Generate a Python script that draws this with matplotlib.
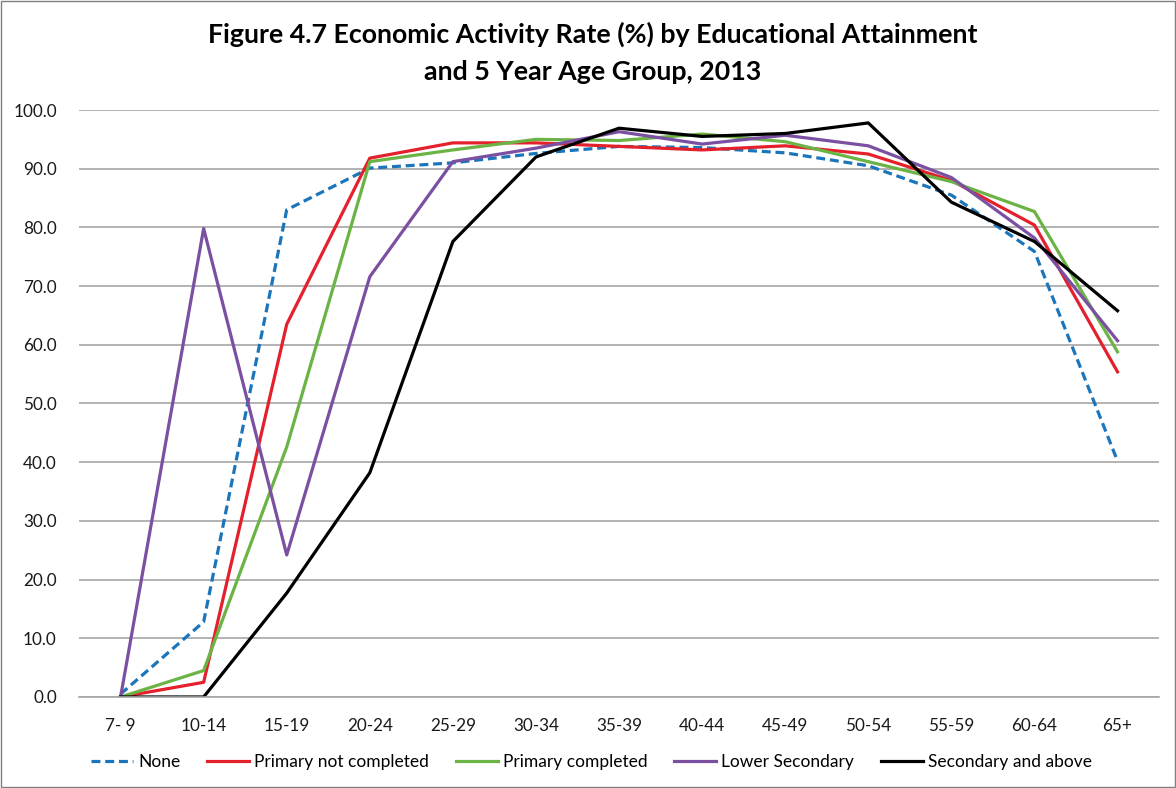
import matplotlib
matplotlib.use("Agg")
import matplotlib.pyplot as plt
from matplotlib.patches import Rectangle
from matplotlib.ticker import FormatStrFormatter

plt.rcParams['font.family'] = ['Lato', 'DejaVu Sans']

age_groups = ["7- 9", "10-14", "15-19", "20-24", "25-29", "30-34", "35-39",
              "40-44", "45-49", "50-54", "55-59", "60-64", "65+"]
none = [0.5, 12.8, 83.0, 90.1, 91.0, 92.6, 93.8, 93.6, 92.7, 90.5, 85.5, 75.9, 40.2]
primary_not_completed = [0.0, 2.5, 63.5, 91.8, 94.4, 94.4, 93.8, 93.2, 93.9, 92.5, 88.0, 80.4, 55.4]
primary_completed = [0.0, 4.5, 42.6, 91.2, 93.2, 95.0, 94.8, 95.9, 94.6, 91.2, 87.8, 82.7, 58.8]
lower_secondary = [0.0, 79.8, 24.2, 71.6, 91.2, 93.5, 96.3, 94.2, 95.7, 93.9, 88.5, 78.2, 60.7]
secondary_above = [0.0, 0.0, 17.7, 38.2, 77.6, 92.0, 96.9, 95.5, 96.0, 97.8, 84.3, 77.6, 65.8]

series = [
    ("None", none, "#1B75BB", (0, (2.8, 1.5))),
    ("Primary not completed", primary_not_completed, "#E3202B", "-"),
    ("Primary completed", primary_completed, "#6BB344", "-"),
    ("Lower Secondary", lower_secondary, "#7B4FA1", "-"),
    ("Secondary and above", secondary_above, "#000000", "-"),
]

fig = plt.figure(figsize=(11.76, 7.88), dpi=100)
ax = fig.add_axes([0.0672, 0.1155, 0.9184, 0.7449])

x = list(range(len(age_groups)))
for name, vals, color, ls in series:
    ax.plot(x, vals, color=color, linestyle=ls, linewidth=2.3, label=name)

ax.set_ylim(0, 100)
ax.set_xlim(-0.5, len(age_groups) - 0.5)
ax.set_yticks(range(0, 101, 10))
ax.yaxis.set_major_formatter(FormatStrFormatter('%.1f'))
ax.set_xticks(x)
ax.set_xticklabels(age_groups)
ax.grid(axis='y', color='#A6A6A6', linewidth=1.2)
ax.set_axisbelow(True)
for s in ['top', 'right', 'left']:
    ax.spines[s].set_visible(False)
ax.spines['bottom'].set_color('#A6A6A6')
ax.spines['bottom'].set_linewidth(1.2)
ax.tick_params(axis='both', length=0, labelsize=12.3, colors='#1a1a1a')
ax.tick_params(axis='x', pad=15)
ax.tick_params(axis='y', pad=16)

fig.text(0.504, 1 - 43 / 788, "Figure 4.7 Economic Activity Rate (%) by Educational Attainment",
         ha='center', va='baseline', fontsize=19.3, fontweight='bold')
fig.text(0.504, 1 - 80 / 788, "and 5 Year Age Group, 2013",
         ha='center', va='baseline', fontsize=19.3, fontweight='bold')

leg = fig.legend(loc='center', bbox_to_anchor=(0.503, 1 - 762 / 788), ncol=5, frameon=False,
                 fontsize=12.5, handlelength=2.4, columnspacing=1.55, handletextpad=0.3)

fig.add_artist(Rectangle((0.001, 0.001), 0.998, 0.998, transform=fig.transFigure,
                         fill=False, edgecolor='#7F7F7F', linewidth=1.0))

fig.savefig("out.png", dpi=100)
